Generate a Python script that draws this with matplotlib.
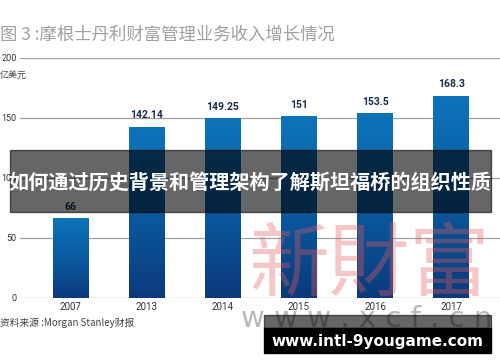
import numpy as np
import matplotlib
matplotlib.use("Agg")
import matplotlib.pyplot as plt
from matplotlib.colors import LinearSegmentedColormap
from matplotlib.patches import Rectangle

# data
years = ["2007", "2013", "2014", "2015", "2016", "2017"]
revenue = [66, 142.14, 149.25, 151, 153.5, 168.3]
value_labels = ["66", "142.14", "149.25", "151", "153.5", "168.3"]
y_ticks = [0, 50, 100, 150, 200]

cjk = ["Noto Sans CJK SC", "DejaVu Sans"]
narrow = ["Roboto", "DejaVu Sans"]
plt.rcParams["font.family"] = cjk

fig = plt.figure(figsize=(5, 3.62), dpi=100)
ax = fig.add_axes([0.04, 0.1768, 0.96, 0.663])

# vertical gradient for bars (dark at bottom, lighter on top)
cmap = LinearSegmentedColormap.from_list("bar", ["#0c3a7c", "#0a5aa0", "#0d74ba"])
grad = np.linspace(0, 1, 256).reshape(-1, 1)
x = np.arange(len(years))
w = 0.47
for xi, v in zip(x, revenue):
    ax.imshow(grad, cmap=cmap, origin="lower", aspect="auto",
              extent=[xi - w / 2, xi + w / 2, 0, v], zorder=3)

for xi, v, lab in zip(x, revenue, value_labels):
    ax.annotate(lab, (xi, v), xytext=(0, 5), textcoords="offset points",
                ha="center", va="bottom", fontsize=7.5, fontweight="bold",
                color="#1b2c4e", family=narrow, zorder=4)

for t in y_ticks:
    ax.axhline(t, color="#a0a0a0", lw=0.9, zorder=1)

ax.set_xlim(-0.663, 5.64)
ax.set_ylim(0, 200)
ax.set_xticks(x)
ax.set_xticklabels(years, family=narrow, fontsize=7, color="#333333")
ax.set_yticks(y_ticks)
ax.set_yticklabels([str(t) for t in y_ticks], family=narrow, fontsize=6.5,
                   color="#333333")
ax.tick_params(length=0, pad=3)
ax.tick_params(axis="y", pad=2.5)
for s in ax.spines.values():
    s.set_visible(False)

# texts around the chart
fig.text(0.0, 0.903, "图 3 :摩根士丹利财富管理业务收入增长情况", fontsize=12.5,
         color="#a0a0a0", va="center", ha="left")
fig.text(0.0, 0.793, "亿美元", fontsize=6.5, color="#444444", va="center")
fig.text(0.0, 0.108, "资料来源 :Morgan Stanley财报", fontsize=7, color="#444444", va="center")

# watermark
fig.text(0.738, 0.262, "新財富", fontsize=58, color="#e65c5c", alpha=0.35,
         ha="center", va="center", family=["Noto Sans CJK TC", "DejaVu Sans"],
         zorder=5)
fig.text(0.734, 0.12, "w w w . x c f . c n", fontsize=21, color="#8a8a8a", alpha=0.6,
         ha="center", va="center", family=["DejaVu Sans"], zorder=5)

# overlay banners
fig.patches.append(Rectangle((0.02, 0.414), 0.962, 0.171, transform=fig.transFigure,
                             color="black", alpha=0.6, zorder=10))
fig.text(0.5, 0.497, "如何通过历史背景和管理架构了解斯坦福桥的组织性质", fontsize=14.5,
         fontweight="bold", color="white", ha="center", va="center", zorder=11)
fig.patches.append(Rectangle((0.528, 0.094), 0.454, 0.036, transform=fig.transFigure,
                             color="black", alpha=0.6, zorder=10))
fig.patches.append(Rectangle((0.528, 0.025), 0.454, 0.069, transform=fig.transFigure,
                             color="black", zorder=10))
fig.text(0.754, 0.058, "www.intl-9yougame.com", fontsize=11, fontweight="bold",
         color="white", ha="center", va="center", family=["DejaVu Sans"], zorder=11)

fig.savefig("out.png", dpi=100)
